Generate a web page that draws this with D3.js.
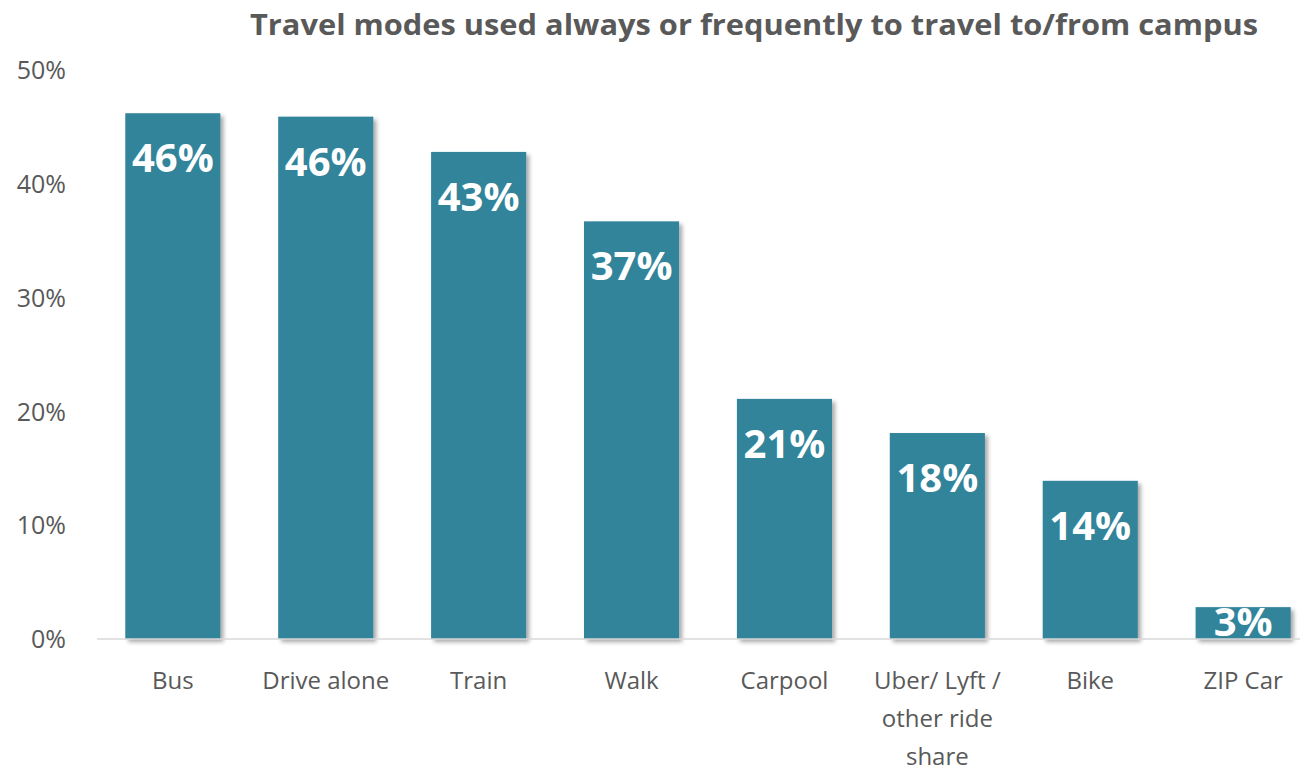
<!DOCTYPE html>
<html><head><meta charset="utf-8">
<script src="https://cdn.jsdelivr.net/npm/d3@7"></script>
<style>body{margin:0;background:#fff}svg{display:block}</style>
</head><body>
<svg id="c" width="1301" height="771"></svg>
<script>
const categories = ["Bus","Drive alone","Train","Walk","Carpool","Uber/ Lyft / other ride share","Bike","ZIP Car"];
const categoryLines = [["Bus"],["Drive alone"],["Train"],["Walk"],["Carpool"],["Uber/ Lyft /","other ride","share"],["Bike"],["ZIP Car"]];
const values = [0.462, 0.459, 0.428, 0.367, 0.211, 0.181, 0.139, 0.028];
const valueLabels = ["46%","46%","43%","37%","21%","18%","14%","3%"];
const yTicks = [0, 0.1, 0.2, 0.3, 0.4, 0.5];
const title = "Travel modes used always or frequently to travel to/from campus";

const svg = d3.select("#c");
const font = "'Open Sans', 'Noto Sans', sans-serif";
const defs = svg.append("defs");
const f = defs.append("filter").attr("id","sh").attr("x","-20%").attr("y","-20%").attr("width","150%").attr("height","150%");
f.append("feDropShadow").attr("dx",3).attr("dy",3).attr("stdDeviation",2).attr("flood-color","#000").attr("flood-opacity",0.35);

const x = d3.scaleBand().domain(categories).range([97,1319]).paddingInner(0.378).paddingOuter(0.185);
const y = d3.scaleLinear().domain([0,0.5]).range([639,70]);

svg.append("text").attr("x",754).attr("y",35).attr("text-anchor","middle")
  .attr("font-family",font).attr("font-weight","bold").attr("font-size",28).attr("fill","#595959")
  .attr("textLength",1008).attr("lengthAdjust","spacingAndGlyphs").text(title);

const yAxis = d3.axisLeft(y).tickValues(yTicks).tickFormat(d3.format(".0%")).tickSize(0).tickPadding(0);
const ya = svg.append("g").attr("transform","translate(66,0)").call(yAxis);
ya.select(".domain").remove();
ya.selectAll("text").attr("font-family",font).attr("font-size",25).attr("fill","#595959").attr("dy","0.35em");

svg.append("g").selectAll("rect").data(values).join("rect")
  .attr("x",(d,i)=>x(categories[i])).attr("width",x.bandwidth())
  .attr("y",d=>y(d)).attr("height",d=>y(0)-y(d))
  .attr("fill","#31849B").attr("filter","url(#sh)");

svg.append("line").attr("x1",97).attr("x2",1300).attr("y1",y(0)).attr("y2",y(0))
  .attr("stroke","#d9d9d9").attr("stroke-width",1.5);

const xAxis = d3.axisBottom(x).tickSize(0).tickFormat("");
const xa = svg.append("g").attr("transform","translate(0,639)").call(xAxis);
xa.select(".domain").remove();
xa.selectAll(".tick").each(function(d,i){
  const t = d3.select(this).append("text").attr("text-anchor","middle")
    .attr("font-family",font).attr("font-size",24).attr("fill","#595959");
  categoryLines[i].forEach((l,j)=>t.append("tspan").attr("x",0).attr("y",50+j*38).text(l));
});

svg.append("g").selectAll("text").data(values).join("text")
  .attr("x",(d,i)=>x(categories[i])+x.bandwidth()/2)
  .attr("y",d=>Math.min(y(d)+59, 636))
  .attr("text-anchor","middle").attr("font-family",font).attr("font-weight","bold")
  .attr("font-size",40).attr("fill","#fff")
  .text((d,i)=>valueLabels[i]);
</script>
</body></html>
